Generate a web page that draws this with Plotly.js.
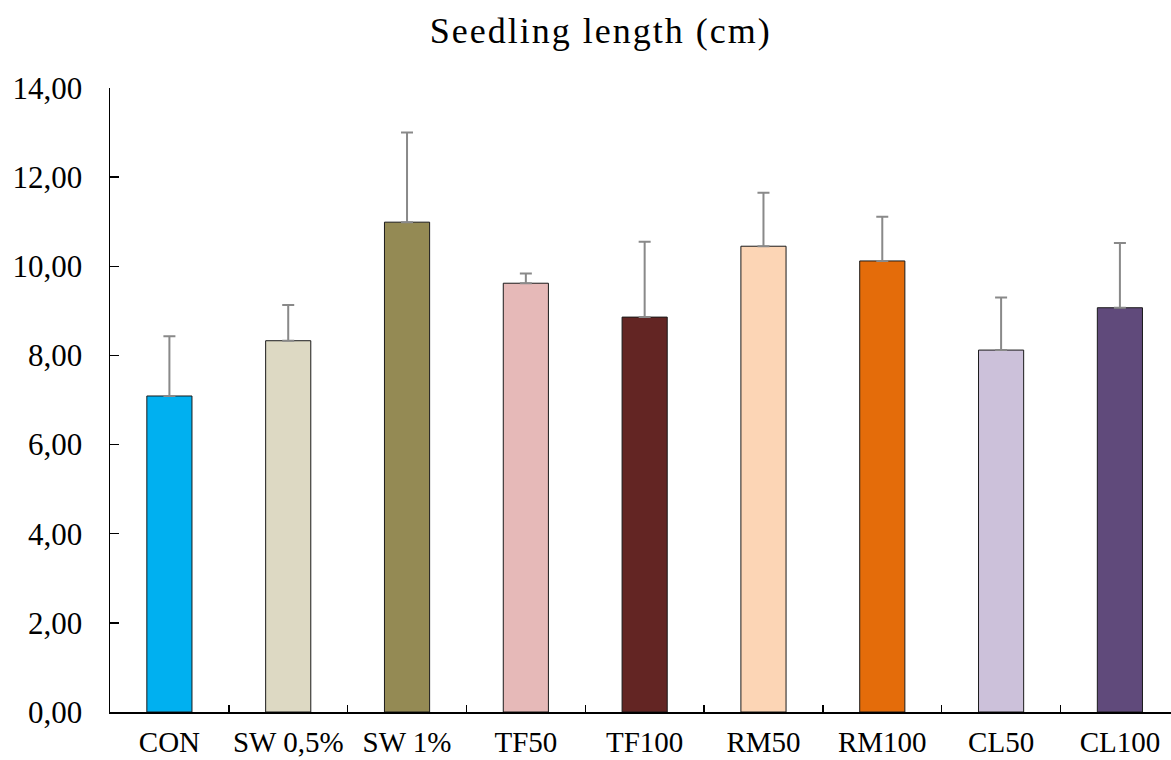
<!DOCTYPE html>
<html>
<head>
<meta charset="utf-8">
<script src="https://cdn.plot.ly/plotly-3.0.1.min.js"></script>
<style>
html,body{margin:0;padding:0;background:#fff;}
#chart{width:1171px;height:760px;}
.gtitle{letter-spacing:2px;}
</style>
</head>
<body>
<div id="chart"></div>
<script>
const categories = ["CON", "SW 0,5%", "SW 1%", "TF50", "TF100", "RM50", "RM100", "CL50", "CL100"];
const values = [7.09, 8.33, 10.99, 9.62, 8.86, 10.45, 10.12, 8.12, 9.07];
const errors = [1.34, 0.80, 2.01, 0.22, 1.69, 1.20, 0.99, 1.18, 1.45];
const colors = ["#00B0F0", "#DDD9C3", "#948A54", "#E6B9B8", "#632523", "#FCD5B5", "#E46C0A", "#CCC1DA", "#604A7B"];
const yTickVals = [0, 2, 4, 6, 8, 10, 12, 14];
const yTickText = ["0,00", "2,00", "4,00", "6,00", "8,00", "10,00", "12,00", "14,00"];

const font = "Liberation Serif, Times New Roman, serif";

const trace = {
  type: "bar",
  x: categories,
  y: values,
  width: 0.38,
  marker: {color: colors, line: {color: "#1a1a1a", width: 1}},
  error_y: {type: "data", array: errors, symmetric: false, arrayminus: errors.map(() => 0),
            visible: true, color: "#898989", thickness: 2, width: 6}
};

const layout = {
  width: 1171, height: 760,
  margin: {l: 110, r: 0, t: 88, b: 48},
  paper_bgcolor: "#fff", plot_bgcolor: "#fff",
  showlegend: false,
  title: {text: "Seedling length (cm)", font: {family: font, size: 36, color: "#000"},
          x: 0.513, xanchor: "center", y: 0.96, yanchor: "middle", yref: "container"},
  xaxis: {
    type: "category", range: [-0.5, 8.43],
    showline: true, linecolor: "#000", linewidth: 1.5,
    ticks: "inside", ticklen: 7, tickwidth: 1.5, tickcolor: "#000",
    tickson: "boundaries", showgrid: false, zeroline: false,
    tickangle: 0, automargin: false,
    tickfont: {family: font, size: 29, color: "#000"},
    ticklabelstandoff: 4
  },
  yaxis: {
    range: [0, 14], tickvals: yTickVals, ticktext: yTickText,
    showline: true, linecolor: "#000", linewidth: 1.5,
    ticks: "inside", ticklen: 9, tickwidth: 1.5, tickcolor: "#000",
    showgrid: false, zeroline: false, automargin: false,
    tickfont: {family: font, size: 31, color: "#000"},
    ticklabelstandoff: 20
  }
};

Plotly.newPlot("chart", [trace], layout, {displayModeBar: false, staticPlot: true});
</script>
</body>
</html>
